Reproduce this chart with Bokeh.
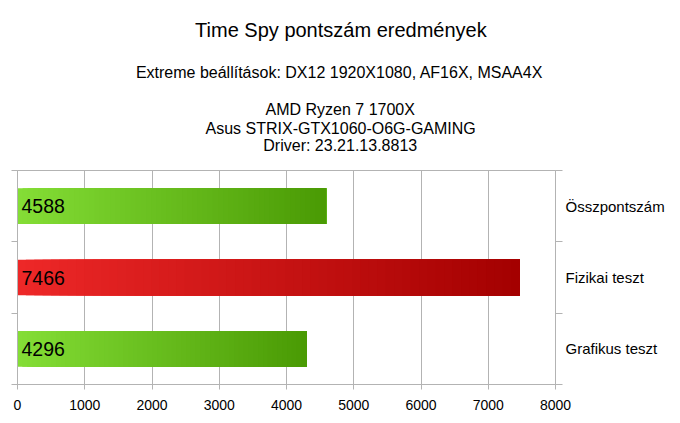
from bokeh.plotting import figure
from bokeh.models import ColumnDataSource, FixedTicker, LinearAxis, Title, Range1d
from bokeh.core.properties import value
from bokeh.embed import file_html
from bokeh.resources import INLINE

# ---------------- data ----------------
title_text = "Time Spy pontszám eredmények"
subtitle_text = "Extreme beállítások: DX12 1920X1080, AF16X, MSAA4X"
info_lines = ["AMD Ryzen 7 1700X", "Asus STRIX-GTX1060-O6G-GAMING", "Driver: 23.21.13.8813"]
categories = ["Összpontszám", "Fizikai teszt", "Grafikus teszt"]   # top to bottom
scores = [4588, 7466, 4296]
bar_kind = ["green", "red", "green"]
x_ticks = [0, 1000, 2000, 3000, 4000, 5000, 6000, 7000, 8000]

# ---------------- style ----------------
FONT = "Liberation Sans"
GRID = "#b3b3b3"
GRADIENTS = {
    "green": ((132, 222, 54), (74, 154, 4)),
    "red": ((238, 40, 40), (163, 0, 0)),
}
N_SLICES = 60
FRAME_LEFT = 17

n = len(categories)
ypos = [n - i - 0.5 for i in range(n)]

p = figure(width=680, height=423, output_backend="svg", toolbar_location=None,
           x_range=Range1d(x_ticks[0], x_ticks[-1]), y_range=Range1d(0, n),
           min_border_left=FRAME_LEFT, min_border_right=125, min_border_top=170, min_border_bottom=39,
           background_fill_color="white", border_fill_color="white",
           outline_line_color=GRID)

# gradient bars built from overlapping slices
for i, (v, kind) in enumerate(zip(scores, bar_kind)):
    c0, c1 = GRADIENTS[kind]
    lefts, rights, ys, cols = [], [], [], []
    for k in range(N_SLICES):
        t = (k + 0.5) / N_SLICES
        rgb = tuple(int(round(a + (b - a) * t)) for a, b in zip(c0, c1))
        lefts.append(v * k / N_SLICES)
        rights.append(v)
        ys.append(ypos[i])
        cols.append("#%02x%02x%02x" % rgb)
    src = ColumnDataSource(dict(left=lefts, right=rights, y=ys, color=cols))
    p.hbar(y="y", left="left", right="right", height=0.5, fill_color="color",
           line_color=None, source=src)

# value labels
lab_src = ColumnDataSource(dict(x=[x_ticks[0]] * n, y=ypos, text=[str(s) for s in scores]))
p.text(x="x", y="y", text="text", source=lab_src, x_offset=4,
       text_font=value(FONT), text_font_size="19.5px", text_color="black",
       text_align="left", text_baseline="middle")

# x axis
xa = p.xaxis[0]
xa.ticker = FixedTicker(ticks=x_ticks)
xa.axis_line_color = GRID
xa.major_tick_line_color = GRID
xa.major_tick_out = 5
xa.major_tick_in = 0
xa.minor_tick_line_color = None
xa.major_label_text_font = FONT
xa.major_label_text_font_size = "14px"
xa.major_label_text_color = "black"
xa.major_label_standoff = 10

# left axis: ticks at category boundaries, no labels
ya = p.yaxis[0]
ya.ticker = FixedTicker(ticks=list(range(n + 1)))
ya.major_label_overrides = {k: "" for k in range(n + 1)}
ya.major_label_standoff = 0
ya.axis_line_color = GRID
ya.major_tick_line_color = GRID
ya.major_tick_out = 6
ya.major_tick_in = 0
ya.minor_tick_line_color = None

# right axis: category labels
ra = LinearAxis(ticker=FixedTicker(ticks=ypos, minor_ticks=list(range(n + 1))))
ra.major_label_overrides = {y: c for y, c in zip(ypos, categories)}
ra.axis_line_color = GRID
ra.major_tick_line_color = None
ra.major_tick_out = 0
ra.major_tick_in = 0
ra.minor_tick_line_color = GRID
ra.minor_tick_out = 7
ra.minor_tick_in = 0
ra.major_label_standoff = 3
ra.major_label_text_font = FONT
ra.major_label_text_font_size = "15px"
ra.major_label_text_color = "black"
p.add_layout(ra, "right")

p.xgrid.ticker = FixedTicker(ticks=x_ticks)
p.xgrid.grid_line_color = GRID
p.ygrid.grid_line_color = None

# titles, stacked from the frame outward
def add_title(text, size, left_px, standoff):
    p.add_layout(Title(text=text, align="left", offset=left_px - FRAME_LEFT,
                       text_font=FONT, text_font_size=size, text_font_style="normal",
                       text_color="black", standoff=standoff), "above")

# invisible spacer between frame and the lowest line
add_title(" ", "10px", 300, 4.2)
add_title(info_lines[2], "16px", 262.8, -1.7)
add_title(info_lines[1], "16px", 205.0, -0.7)
add_title(info_lines[0], "16px", 265.0, 1.0)
add_title(subtitle_text, "16px", 135.4, 35.8)
add_title(title_text, "20px", 194.6, 5.4)

open("out.html", "w").write(file_html(p, INLINE))
